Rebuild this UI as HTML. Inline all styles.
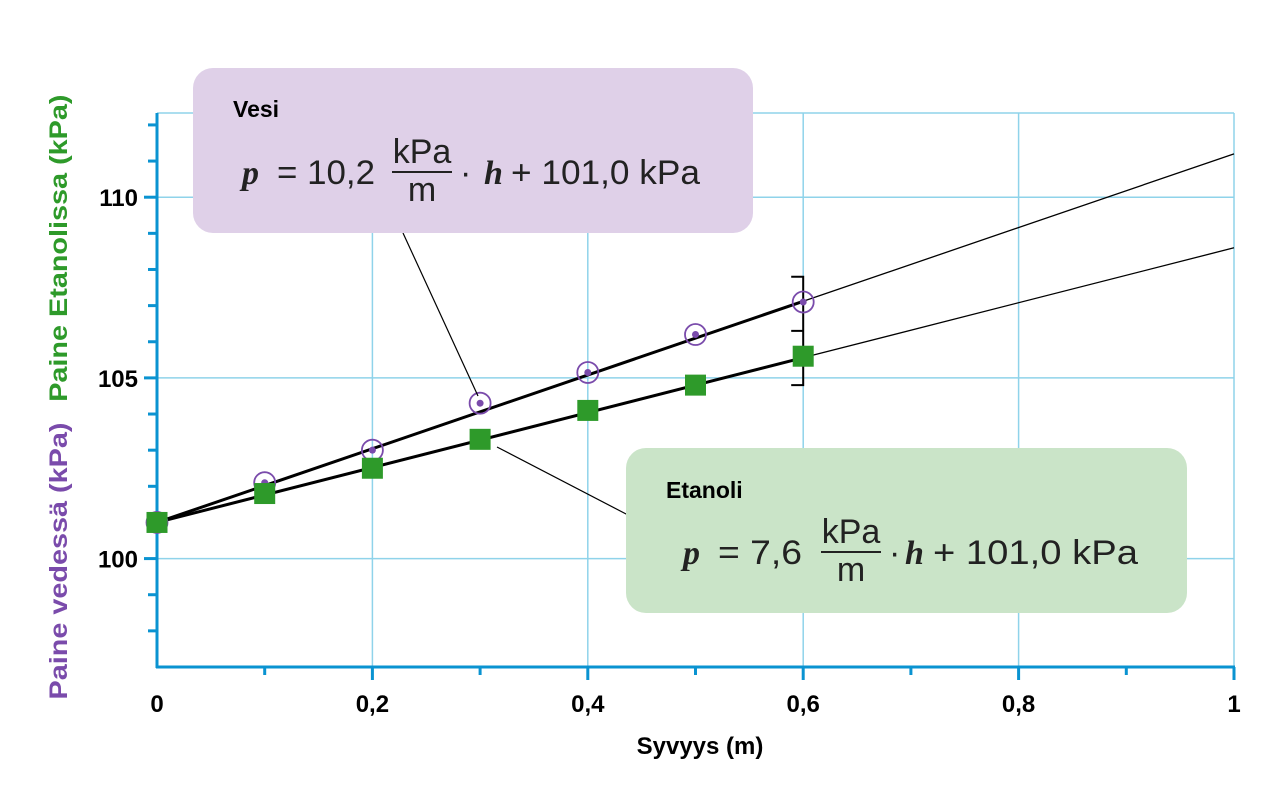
<!DOCTYPE html>
<html><head><meta charset="utf-8"><style>
html,body{margin:0;padding:0;background:#fff;}
svg{display:block;font-family:"Liberation Sans",Arial,sans-serif;}
</style></head><body>
<svg id="chart" width="1280" height="797" viewBox="0 0 1280 797">
<g id="grid"></g>
<g id="axes"></g>
<g id="lines"></g>
<g id="marks"></g>
<g>
  <line x1="403" y1="233" x2="478" y2="396" stroke="#000" stroke-width="1.2"/>
  <rect x="193" y="68" width="560" height="165" rx="20" fill="#dfd0e8"/>
  <text x="233" y="117" font-size="23" font-weight="bold">Vesi</text>
  <g font-size="34" fill="#222">
    <text x="242" y="184" font-family="'Liberation Serif',serif" font-style="italic" font-weight="bold">p</text>
    <text x="277" y="184" textLength="98" lengthAdjust="spacingAndGlyphs">= 10,2</text>
    <text x="422" y="163" text-anchor="middle">kPa</text>
    <line x1="392" y1="172" x2="452" y2="172" stroke="#222" stroke-width="2"/>
    <text x="422" y="201" text-anchor="middle">m</text>
    <text x="460" y="184">·</text>
    <text x="484" y="184" font-family="'Liberation Serif',serif" font-style="italic" font-weight="bold">h</text>
    <text x="511" y="184" textLength="189" lengthAdjust="spacingAndGlyphs">+ 101,0 kPa</text>
  </g>
</g>
<g>
  <line x1="497" y1="447" x2="628" y2="515" stroke="#000" stroke-width="1.2"/>
  <rect x="626" y="448" width="561" height="165" rx="20" fill="#cae4c8"/>
  <text x="666" y="498" font-size="23" font-weight="bold">Etanoli</text>
  <g font-size="34" fill="#222">
    <text x="683" y="564" font-family="'Liberation Serif',serif" font-style="italic" font-weight="bold">p</text>
    <text x="718" y="564" textLength="84" lengthAdjust="spacingAndGlyphs">= 7,6</text>
    <text x="851" y="543" text-anchor="middle">kPa</text>
    <line x1="821" y1="552" x2="881" y2="552" stroke="#222" stroke-width="2"/>
    <text x="851" y="581" text-anchor="middle">m</text>
    <text x="889" y="564">·</text>
    <text x="905" y="564" font-family="'Liberation Serif',serif" font-style="italic" font-weight="bold">h</text>
    <text x="933" y="564" textLength="205" lengthAdjust="spacingAndGlyphs">+ 101,0 kPa</text>
  </g>
</g>
<text x="700" y="754" font-size="24" font-weight="bold" text-anchor="middle">Syvyys (m)</text>
<text transform="translate(67,397) rotate(-90)" font-size="25" font-weight="bold" text-anchor="middle" textLength="605" lengthAdjust="spacingAndGlyphs"><tspan fill="#7a4bab">Paine vedessä (kPa)</tspan><tspan dx="18" fill="#2e9a2a">Paine Etanolissa (kPa)</tspan></text>
</svg>
<script>
const depths = [0, 0.1, 0.2, 0.3, 0.4, 0.5, 0.6];
const vesiValues = [101.0, 102.1, 103.0, 104.3, 105.15, 106.2, 107.1];
const etanoliValues = [101.0, 101.8, 102.5, 103.3, 104.1, 104.8, 105.6];
const vesiFit = [10.2, 101.0];
const etanoliFit = [7.6, 101.0];
const xTickLabels = ["0", "0,2", "0,4", "0,6", "0,8", "1"];
const xTickValues = [0, 0.2, 0.4, 0.6, 0.8, 1];
const yTickLabels = ["100", "105", "110"];
const yTickValues = [100, 105, 110];
const errorBar = [0.6, 105.6, 107.8, 104.8];

const X0=157, X1=1234, YMIN=97, YMAX=112.33, YB=667, YT=113;
const xs = v => X0 + (X1-X0)*v;
const ys = v => YB - (YB-YT)*(v-YMIN)/(YMAX-YMIN);
const NS="http://www.w3.org/2000/svg";
function mk(parent, tag, attrs){const e=document.createElementNS(NS,tag);for(const k in attrs)e.setAttribute(k,attrs[k]);parent.appendChild(e);return e;}
const grid=document.getElementById('grid'), axes=document.getElementById('axes'), lines=document.getElementById('lines'), marks=document.getElementById('marks');
const GC="#8fd3ea", AC="#0a93d1";
for(let i=1;i<=5;i++){const v=i*0.2;const l=mk(grid,'line',{x1:xs(v),x2:xs(v),y1:YT,y2:YB,stroke:GC,'stroke-width':1.5});

}
for(const v of yTickValues.concat([YMAX])){const l=mk(grid,'line',{x1:X0,x2:X1,y1:ys(v),y2:ys(v),stroke:GC,'stroke-width':1.5});

}
let a=mk(axes,'line',{x1:X0,x2:X0,y1:YT,y2:YB+1,stroke:AC,'stroke-width':3});


a=mk(axes,'line',{x1:X0-1,x2:X1+1,y1:YB,y2:YB,stroke:AC,'stroke-width':3});


for(let v=98;v<=112;v++){const major=yTickValues.includes(v);const t=mk(axes,'line',{x1:major?X0-13:X0-9,x2:X0,y1:ys(v),y2:ys(v),stroke:AC,'stroke-width':3});

}
for(let i=1;i<=10;i++){const v=i/10;const major=i%2===0;const t=mk(axes,'line',{x1:xs(v),x2:xs(v),y1:YB,y2:YB+(major?13:8),stroke:AC,'stroke-width':3});

}
xTickLabels.forEach((s,i)=>{const t=mk(axes,'text',{x:xs(xTickValues[i]),y:712,'font-size':24,'font-weight':'bold','text-anchor':'middle'});t.textContent=s;

});
yTickLabels.forEach((s,i)=>{const t=mk(axes,'text',{x:138,y:ys(yTickValues[i])+9,'font-size':24,'font-weight':'bold','text-anchor':'end'});t.textContent=s;

});
[[vesiFit,'vesi'],[etanoliFit,'etanoli']].forEach(([f,n])=>{
  const v=x=>f[0]*x+f[1];
  let l=mk(lines,'line',{x1:xs(0),y1:ys(v(0)),x2:xs(0.6),y2:ys(v(0.6)),stroke:'#000','stroke-width':3});
  
  
  l=mk(lines,'line',{x1:xs(0.6),y1:ys(v(0.6)),x2:xs(1),y2:ys(v(1)),stroke:'#000','stroke-width':1.3});
  
  
});
const ex=xs(errorBar[0]), et=ys(errorBar[2]), eb=ys(errorBar[3]), em=(et+eb)/2;
const br=mk(lines,'path',{d:`M${ex-12},${et} H${ex} V${eb} H${ex-12} M${ex-12},${em} H${ex}`,fill:'none',stroke:'#000','stroke-width':2});


depths.forEach((d,i)=>{
  const c=mk(marks,'circle',{cx:xs(d),cy:ys(vesiValues[i]),r:10.5,fill:'none',stroke:'#7a4bab','stroke-width':1.8});
  
  
  const dot=mk(marks,'circle',{cx:xs(d),cy:ys(vesiValues[i]),r:3.5,fill:'#7a4bab'});
  
  
});
depths.forEach((d,i)=>{
  const s=mk(marks,'rect',{x:xs(d)-10.5,y:ys(etanoliValues[i])-10.5,width:21,height:21,fill:'#2e9a2a'});
  
  
});
</script>
</body></html>
